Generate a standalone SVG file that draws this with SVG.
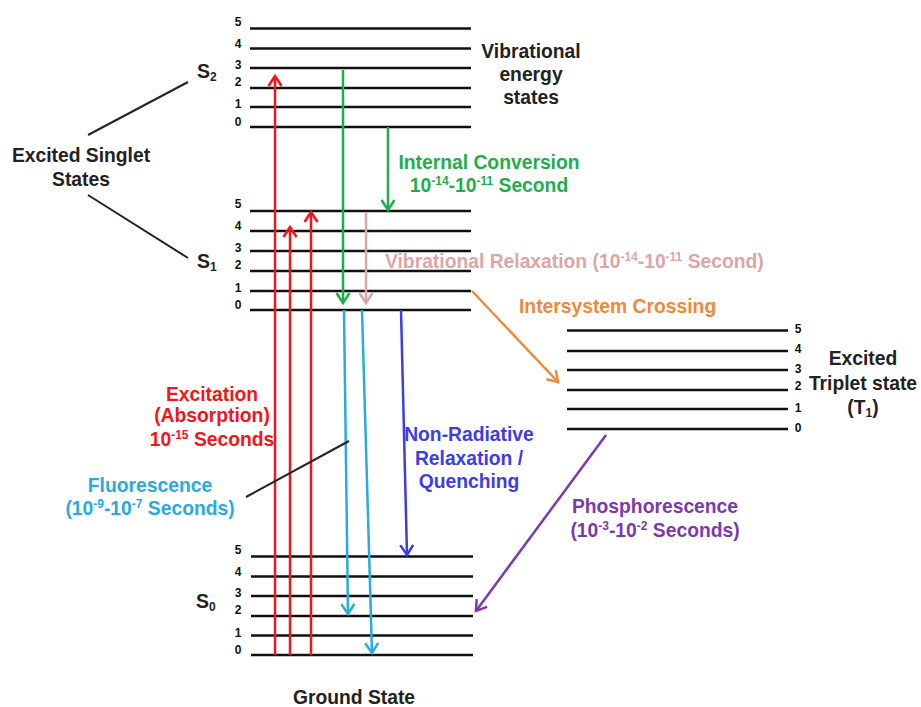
<svg xmlns="http://www.w3.org/2000/svg" width="921" height="707" viewBox="0 0 921 707">
<style>
.lv{stroke:#111;stroke-width:2.5;fill:none}
.num{font-family:"Liberation Sans",Arial,sans-serif;font-weight:bold;font-size:12px;fill:#111;text-anchor:middle}
.lab{font-family:"Liberation Sans",Arial,sans-serif;font-weight:bold;font-size:19.3px;text-anchor:middle}
.ls{font-family:"Liberation Sans",Arial,sans-serif;font-weight:bold;font-size:19.3px;text-anchor:start}
.st{font-family:"Liberation Sans",Arial,sans-serif;font-weight:bold;font-size:19.5px;fill:#222}
.ar{fill:none;stroke-width:2.5}
.ptr{stroke:#222;stroke-width:2;fill:none}
</style>
<defs>
<marker id="mRed" markerUnits="userSpaceOnUse" markerWidth="24" markerHeight="24" refX="0" refY="0" viewBox="-12 -12 24 24" orient="auto"><path d="M-10,-6.5 L0,0 L-10,6.5" fill="none" stroke="#f5141a" stroke-width="2.5"/></marker>
<marker id="mGreen" markerUnits="userSpaceOnUse" markerWidth="24" markerHeight="24" refX="0" refY="0" viewBox="-12 -12 24 24" orient="auto"><path d="M-10,-6.5 L0,0 L-10,6.5" fill="none" stroke="#1fae4b" stroke-width="2.5"/></marker>
<marker id="mPink" markerUnits="userSpaceOnUse" markerWidth="24" markerHeight="24" refX="0" refY="0" viewBox="-12 -12 24 24" orient="auto"><path d="M-10,-6.5 L0,0 L-10,6.5" fill="none" stroke="#dfa5a5" stroke-width="2.5"/></marker>
<marker id="mCyan" markerUnits="userSpaceOnUse" markerWidth="24" markerHeight="24" refX="0" refY="0" viewBox="-12 -12 24 24" orient="auto"><path d="M-10,-6.5 L0,0 L-10,6.5" fill="none" stroke="#29aae1" stroke-width="2.5"/></marker>
<marker id="mBlue" markerUnits="userSpaceOnUse" markerWidth="24" markerHeight="24" refX="0" refY="0" viewBox="-12 -12 24 24" orient="auto"><path d="M-10,-6.5 L0,0 L-10,6.5" fill="none" stroke="#3c3ce8" stroke-width="2.5"/></marker>
<marker id="mOrange" markerUnits="userSpaceOnUse" markerWidth="24" markerHeight="24" refX="0" refY="0" viewBox="-12 -12 24 24" orient="auto"><path d="M-10,-6.5 L0,0 L-10,6.5" fill="none" stroke="#ee8a3a" stroke-width="2.5"/></marker>
<marker id="mPurple" markerUnits="userSpaceOnUse" markerWidth="24" markerHeight="24" refX="0" refY="0" viewBox="-12 -12 24 24" orient="auto"><path d="M-10,-6.5 L0,0 L-10,6.5" fill="none" stroke="#7a3aae" stroke-width="2.5"/></marker>
</defs>
<rect width="921" height="707" fill="#fff"/>

<g id="S2">
<path class="lv" d="M250,28.5H471M250,48.5H471M250,68H471M250,88H471M250,107H471M250,127H471"/>
<text class="num" x="238" y="25.5">5</text><text class="num" x="238" y="47.5">4</text><text class="num" x="238" y="69">3</text><text class="num" x="238" y="86">2</text><text class="num" x="238" y="108">1</text><text class="num" x="238" y="126">0</text>
<text class="st" x="197" y="78">S<tspan font-size="12" dy="3">2</tspan></text>
</g>

<g id="S1">
<path class="lv" d="M250,211H471M250,231H471M250,251H471M250,271H471M250,291H471M250,310H471"/>
<text class="num" x="238" y="208">5</text><text class="num" x="238" y="230">4</text><text class="num" x="238" y="252">3</text><text class="num" x="238" y="269">2</text><text class="num" x="238" y="292">1</text><text class="num" x="238" y="309">0</text>
<text class="st" x="197" y="268">S<tspan font-size="12" dy="3">1</tspan></text>
</g>

<g id="S0">
<path class="lv" d="M251,556.5H473M251,576.5H473M251,596H473M251,616H473M251,635.5H473M251,655H473"/>
<text class="num" x="238" y="553.5">5</text><text class="num" x="238" y="575.5">4</text><text class="num" x="238" y="597">3</text><text class="num" x="238" y="614">2</text><text class="num" x="238" y="636.5">1</text><text class="num" x="238" y="654">0</text>
<text class="st" x="196" y="608">S<tspan font-size="12" dy="3">0</tspan></text>
<text class="lab" fill="#222" x="354" y="704">Ground State</text>
</g>

<g id="T1">
<path class="lv" d="M567,330.5H788M567,351H788M567,370H788M567,390H788M567,409H788M567,429H788"/>
<text class="num" x="798" y="333">5</text><text class="num" x="798" y="353">4</text><text class="num" x="798" y="373">3</text><text class="num" x="798" y="390">2</text><text class="num" x="798" y="412">1</text><text class="num" x="798" y="432">0</text>
<text class="lab" fill="#222" x="863" y="365">Excited</text>
<text class="lab" fill="#222" x="863" y="390">Triplet state</text>
<text class="lab" fill="#222" x="863" y="414">(T<tspan font-size="12" dy="3">1</tspan><tspan dy="-3">)</tspan></text>
</g>

<g id="singlet-label">
<text class="lab" fill="#222" x="81" y="162">Excited Singlet</text>
<text class="lab" fill="#222" x="81" y="186">States</text>
<path class="ptr" d="M88,135L188,82M88,195L188,258"/>
</g>

<g id="vib-label">
<text class="lab" fill="#222" x="531" y="58">Vibrational</text>
<text class="lab" fill="#222" x="531" y="81">energy</text>
<text class="lab" fill="#222" x="531" y="104">states</text>
</g>

<g id="connectors">
<path class="ar" stroke="#f5141a" d="M275,655V76" marker-end="url(#mRed)"/>
<path class="ar" stroke="#f5141a" d="M290,655V227" marker-end="url(#mRed)"/>
<path class="ar" stroke="#f5141a" d="M311,655V212" marker-end="url(#mRed)"/>
<path class="ar" stroke="#1fae4b" d="M343,70V303" marker-end="url(#mGreen)"/>
<path class="ar" stroke="#1fae4b" d="M388,127V210" marker-end="url(#mGreen)"/>
<path class="ar" stroke="#dfa5a5" d="M366,212V303" marker-end="url(#mPink)"/>
<path class="ar" stroke="#29aae1" d="M344,310L348,614" marker-end="url(#mCyan)"/>
<path class="ar" stroke="#29aae1" d="M362,310L372,653" marker-end="url(#mCyan)"/>
<path class="ar" stroke="#3c3ce8" d="M401,310L407,555" marker-end="url(#mBlue)"/>
<path class="ar" stroke="#ee8a3a" d="M472,291L558,382" marker-end="url(#mOrange)"/>
<path class="ar" stroke="#7a3aae" d="M606,435L476,611" marker-end="url(#mPurple)"/>
<path class="ptr" d="M246,497L349,441"/>
</g>

<g id="ic-label">
<text class="lab" fill="#1fae4b" x="489" y="169">Internal Conversion</text>
<text class="lab" fill="#1fae4b" x="489" y="192">10<tspan font-size="12" dy="-7">-14</tspan><tspan dy="7">-10</tspan><tspan font-size="12" dy="-7">-11</tspan><tspan dy="7"> Second</tspan></text>
</g>

<g id="vr-label">
<text class="ls" fill="#dfa5a5" x="385" y="268">Vibrational Relaxation (10<tspan font-size="12" dy="-7">-14</tspan><tspan dy="7">-10</tspan><tspan font-size="12" dy="-7">-11</tspan><tspan dy="7"> Second)</tspan></text>
</g>

<g id="isc-label">
<text class="ls" fill="#ee8a3a" x="519" y="313">Intersystem Crossing</text>
</g>

<g id="exc-label">
<text class="lab" fill="#f5141a" x="212" y="401">Excitation</text>
<text class="lab" fill="#f5141a" x="212" y="422">(Absorption)</text>
<text class="lab" fill="#f5141a" x="212" y="446">10<tspan font-size="12" dy="-7">-15</tspan><tspan dy="7"> Seconds</tspan></text>
</g>

<g id="fl-label">
<text class="lab" fill="#29aae1" x="150" y="492">Fluorescence</text>
<text class="lab" fill="#29aae1" x="150" y="515">(10<tspan font-size="12" dy="-7">-9</tspan><tspan dy="7">-10</tspan><tspan font-size="12" dy="-7">-7</tspan><tspan dy="7"> Seconds)</tspan></text>
</g>

<g id="nr-label">
<text class="lab" fill="#3c3ce8" x="469" y="441">Non-Radiative</text>
<text class="lab" fill="#3c3ce8" x="469" y="465">Relaxation /</text>
<text class="lab" fill="#3c3ce8" x="469" y="488">Quenching</text>
</g>

<g id="ph-label">
<text class="lab" fill="#7a3aae" x="655" y="513">Phosphorescence</text>
<text class="lab" fill="#7a3aae" x="655" y="537">(10<tspan font-size="12" dy="-7">-3</tspan><tspan dy="7">-10</tspan><tspan font-size="12" dy="-7">-2</tspan><tspan dy="7"> Seconds)</tspan></text>
</g>
</svg>
